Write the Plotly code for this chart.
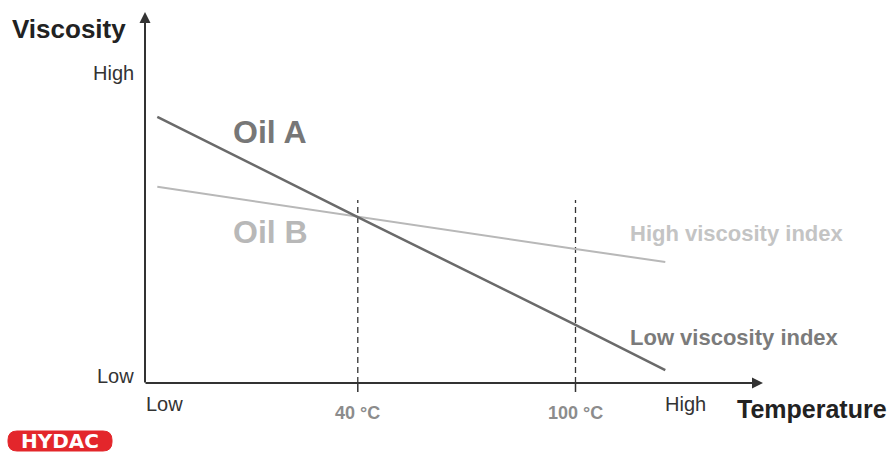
import plotly.graph_objects as go

# ---- data (abstract units: temperature 0..100 along x, viscosity 0..100 along y)
temp_points = [2.0, 34.6, 70.0, 84.6]          # Low end, 40 °C, 100 °C, High end
oil_a_visc = [72.3, 45.1, 15.8, 3.5]          # low viscosity index
oil_b_visc = [53.3, 45.1, 36.4, 32.9]         # high viscosity index
ref_temps = [34.6, 70.0]                       # 40 °C and 100 °C
ref_labels = ["40 °C", "100 °C"]
ref_top = 49.7
x_tick_labels = ["Low", "High"]
y_tick_labels = ["Low", "High"]

W, H = 894, 452
L, R, T, B = 145, 760, 15, 383


def ppx(v):
    return (v - L) / (R - L)


def ppy(v):
    return (B - v) / (B - T)


FONT = "Liberation Sans, Arial, sans-serif"
fig = go.Figure()

# reference dashed lines
for xv in ref_temps:
    fig.add_trace(go.Scatter(x=[xv, xv], y=[0, ref_top], mode="lines",
                             line=dict(color="#333333", width=1.3, dash="6px,4px"),
                             hoverinfo="skip", showlegend=False))

fig.add_trace(go.Scatter(x=temp_points, y=oil_b_visc, mode="lines",
                         line=dict(color="#b8b8b8", width=2), name="Oil B", showlegend=False))
fig.add_trace(go.Scatter(x=temp_points, y=oil_a_visc, mode="lines",
                         line=dict(color="#6a6a6a", width=2.5), name="Oil A", showlegend=False))

shapes = []
# small tick marks below x axis at reference temps
for xv in ref_temps:
    shapes.append(dict(type="line", xref="x", yref="paper", x0=xv, x1=xv, y0=0, y1=ppy(392),
                       line=dict(color="#333333", width=1.5)))

# HYDAC logo
x0, y0 = 8, 431
x1, y1 = 112, 451
r = 9
path_p = (f"M {ppx(x0+r)},{ppy(y0)} L {ppx(x1-r)},{ppy(y0)} Q {ppx(x1)},{ppy(y0)} {ppx(x1)},{ppy(y0+r)} "
          f"L {ppx(x1)},{ppy(y1-r)} Q {ppx(x1)},{ppy(y1)} {ppx(x1-r)},{ppy(y1)} "
          f"L {ppx(x0+r)},{ppy(y1)} Q {ppx(x0)},{ppy(y1)} {ppx(x0)},{ppy(y1-r)} "
          f"L {ppx(x0)},{ppy(y0+r)} Q {ppx(x0)},{ppy(y0)} {ppx(x0+r)},{ppy(y0)} Z")
shapes.append(dict(type="path", xref="paper", yref="paper", path=path_p,
                   fillcolor="#e3262b", line=dict(color="#e3262b", width=1)))

ann = []
# axes with arrows
ann.append(dict(x=ppx(145), y=ppy(12), ax=0, ay=372, xref="paper", yref="paper",
                axref="pixel", ayref="pixel", showarrow=True, arrowhead=2, arrowsize=1.1,
                arrowwidth=2, arrowcolor="#333333", text=""))
ann.append(dict(x=ppx(763), y=ppy(383), ax=-619, ay=0, xref="paper", yref="paper",
                axref="pixel", ayref="pixel", showarrow=True, arrowhead=2, arrowsize=1.1,
                arrowwidth=2, arrowcolor="#333333", text=""))


def text(xp, yp, s, size, color, bold=False, xanchor="left", family=FONT):
    ann.append(dict(x=ppx(xp), y=ppy(yp), xref="paper", yref="paper",
                    text=f"<b>{s}</b>" if bold else s,
                    showarrow=False, xanchor=xanchor, yanchor="middle",
                    font=dict(family=family, size=size, color=color)))


text(10, 29, "Viscosity", 26, "#222222", bold=True)
text(735, 409, "Temperature", 25, "#222222", bold=True)
text(136, 73, y_tick_labels[1], 20, "#333333", xanchor="right")
text(136, 376, y_tick_labels[0], 20, "#333333", xanchor="right")
text(144, 404, x_tick_labels[0], 20, "#333333")
text(663, 404, x_tick_labels[1], 20, "#333333")
for xv, lab in zip(ref_temps, ref_labels):
    ann.append(dict(x=xv, y=ppy(413), xref="x", yref="paper", text=f"<b>{lab}</b>",
                    showarrow=False, xanchor="center", yanchor="middle",
                    font=dict(family=FONT, size=18, color="#8c8c8c")))
text(231, 132, "Oil A", 32, "#777777", bold=True)
text(231, 232, "Oil B", 32, "#b8b8b8", bold=True)
text(628, 234, "High viscosity index", 22, "#c4c4c4", bold=True)
text(628, 337, "Low viscosity index", 22, "#7b7b7b", bold=True)
text(60, 441, "HYDAC", 20, "#ffffff", bold=True, xanchor="center", family="DejaVu Sans")

fig.update_layout(
    width=W, height=H,
    margin=dict(l=L, r=W - R, t=T, b=H - B),
    paper_bgcolor="white", plot_bgcolor="white",
    xaxis=dict(range=[0, 100], visible=False, fixedrange=True),
    yaxis=dict(range=[0, 100], visible=False, fixedrange=True),
    shapes=shapes, annotations=ann, showlegend=False,
)
fig.write_html("out.html", config={"displayModeBar": False},
               post_script="document.body.style.margin='0px';")
